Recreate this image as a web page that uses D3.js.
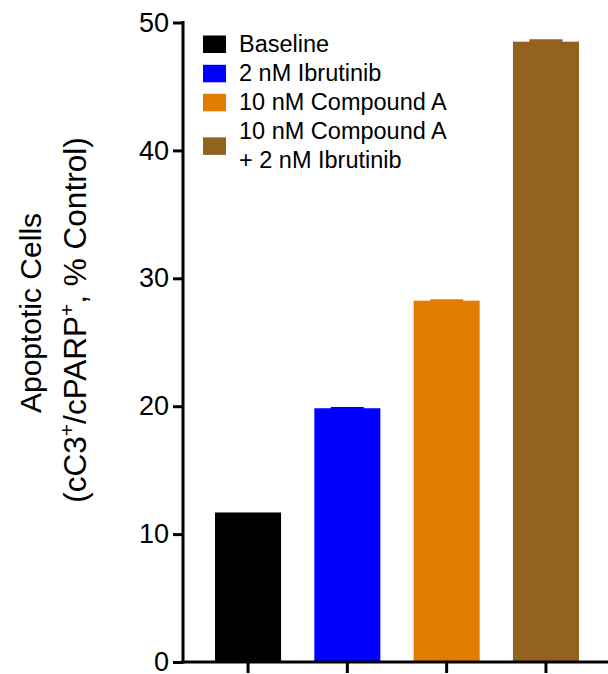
<!DOCTYPE html>
<html>
<head>
<meta charset="utf-8">
<script src="https://cdn.jsdelivr.net/npm/d3@7"></script>
<style>
  html, body { margin: 0; padding: 0; background: #fff; }
  svg { display: block; font-family: "Liberation Sans", Arial, sans-serif; }
</style>
</head>
<body>
<svg id="chart" width="608" height="674"></svg>
<script>
// Treatment groups and their mean apoptotic cell percentages
const groups = ["Baseline", "2 nM Ibrutinib", "10 nM Compound A", "10 nM Compound A + 2 nM Ibrutinib"];
const values = [11.69, 19.84, 28.25, 48.5];
const errors = [0, 0.1, 0.11, 0.19];
const colors = ["#000000", "#0000ff", "#e07c00", "#93621f"];
const legendLines = [["Baseline"], ["2 nM Ibrutinib"], ["10 nM Compound A"], ["10 nM Compound A", "+ 2 nM Ibrutinib"]];
const yTicks = [0, 10, 20, 30, 40, 50];

const svg = d3.select("#chart");

const x = d3.scaleBand()
  .domain(groups)
  .range([183, 611])
  .paddingInner(0.335)
  .paddingOuter(0.3225);

const y = d3.scaleLinear()
  .domain([0, 50])
  .range([662, 22.5]);

// Bars
svg.append("g").selectAll("rect")
  .data(groups)
  .join("rect")
  .attr("x", d => x(d))
  .attr("width", x.bandwidth())
  .attr("y", (d, i) => y(values[i]))
  .attr("height", (d, i) => y(0) - y(values[i]))
  .attr("fill", (d, i) => colors[i]);

// Error bars (upper half, with cap)
const err = svg.append("g");
groups.forEach((g, i) => {
  if (!errors[i]) return;
  const cx = x(g) + x.bandwidth() / 2;
  const capW = x.bandwidth() / 2;
  err.append("rect")
    .attr("x", cx - capW / 2)
    .attr("width", capW)
    .attr("y", y(values[i] + errors[i]))
    .attr("height", y(values[i]) - y(values[i] + errors[i]) + 1)
    .attr("fill", colors[i]);
});

// Y axis
const yAxis = svg.append("g")
  .attr("transform", "translate(183,0)")
  .call(d3.axisLeft(y).tickValues(yTicks).tickSize(10).tickSizeOuter(0).tickPadding(4));
yAxis.select(".domain").attr("stroke", "#000").attr("stroke-width", 3)
  .attr("d", `M0,${y(50) - 1.5}V${y(0) + 1.5}`);
yAxis.selectAll(".tick line").attr("stroke", "#000").attr("stroke-width", 3);
yAxis.selectAll(".tick text")
  .attr("fill", "#000")
  .style("font-size", "27px")
  .style("font-family", "'Liberation Sans', Arial, sans-serif");

// X axis
const xAxis = svg.append("g")
  .attr("transform", "translate(0,662)")
  .call(d3.axisBottom(x).tickSize(11).tickSizeOuter(0).tickFormat(""));
xAxis.select(".domain").attr("stroke", "#000").attr("stroke-width", 3)
  .attr("d", `M${183 - 1.5},0H611`);
xAxis.selectAll(".tick line").attr("stroke", "#000").attr("stroke-width", 3);

// Y axis title (two lines, rotated)
svg.append("text")
  .attr("transform", "translate(41,313) rotate(-90)")
  .attr("text-anchor", "middle")
  .style("font-size", "30px")
  .attr("fill", "#000")
  .text("Apoptotic Cells");
const l2 = svg.append("text")
  .attr("transform", "translate(86,320) rotate(-90)")
  .attr("text-anchor", "middle")
  .style("font-size", "31.5px")
  .attr("fill", "#000");
l2.append("tspan").text("(cC3");
l2.append("tspan").attr("dy", -12).style("font-size", "21px").text("+");
l2.append("tspan").attr("dy", 12).text("/cPARP");
l2.append("tspan").attr("dy", -12).style("font-size", "21px").text("+");
l2.append("tspan").attr("dy", 12).text(", % Control)");

// Legend
const legend = svg.append("g");
const rowBase = [51.7, 81, 110, 139.3];
legendLines.forEach((lines, i) => {
  const first = rowBase[i];
  const last = first + (lines.length - 1) * 28.5;
  const mid = (first + last) / 2 - 7.5;
  legend.append("rect")
    .attr("x", 203).attr("y", mid - 8.7)
    .attr("width", 23).attr("height", 17.5)
    .attr("fill", colors[i]);
  lines.forEach((t, j) => {
    legend.append("text")
      .attr("x", 239).attr("y", first + j * 28.5)
      .style("font-size", "23.5px")
      .attr("fill", "#000")
      .text(t);
  });
});
</script>
</body>
</html>
